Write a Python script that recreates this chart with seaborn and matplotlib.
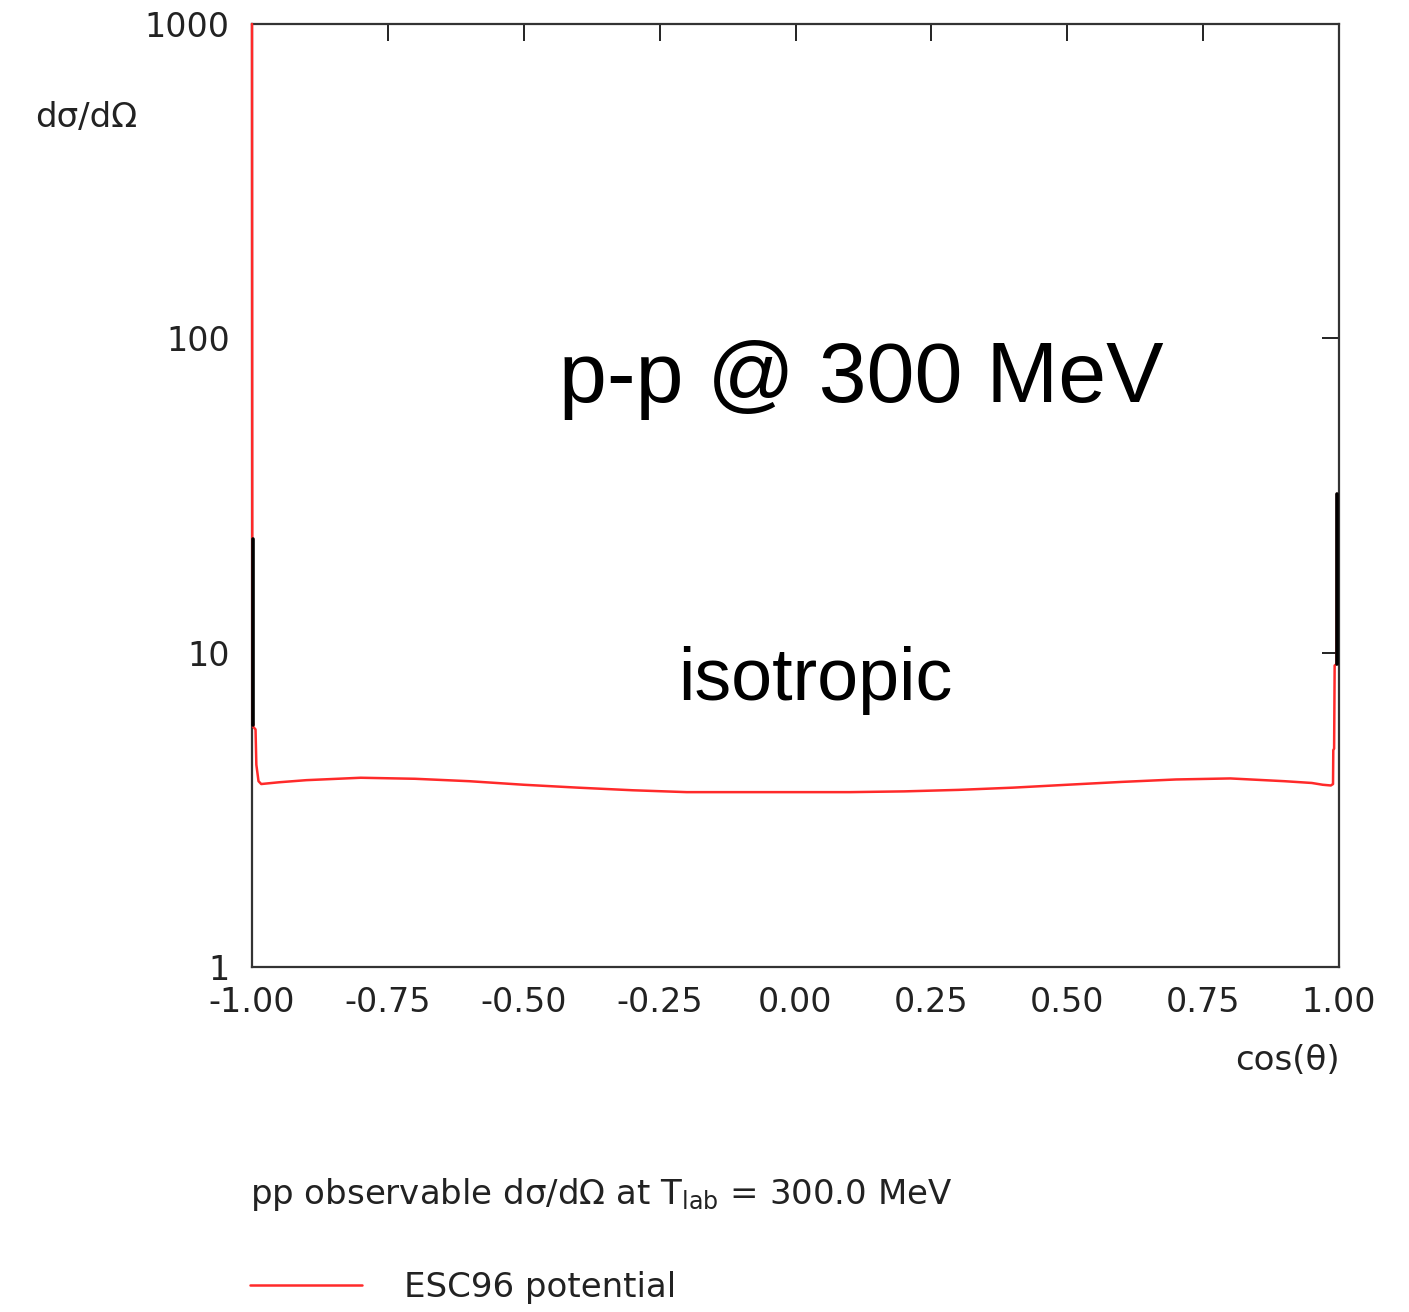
import numpy as np
import pandas as pd
import matplotlib
matplotlib.use("Agg")
import matplotlib.pyplot as plt
import seaborn as sns

# ---- data ----
cos_theta = [-1.000, -0.9995, -0.9985, -0.9975, -0.9935, -0.9920, -0.9880, -0.9830,
             -0.9700, -0.9500, -0.9000, -0.8000, -0.7000, -0.6000, -0.5000, -0.4000,
             -0.3000, -0.2000, -0.1000, 0.0000, 0.1000, 0.2000, 0.3000, 0.4000,
             0.5000, 0.6000, 0.7000, 0.8000, 0.9000, 0.9500, 0.9700, 0.9850,
             0.9890, 0.9895, 0.9910, 0.9920, 0.9955, 0.9962]
dsigma = [1000, 23.0, 6.0, 5.8, 5.7, 4.4, 3.9, 3.82,
          3.84, 3.87, 3.93, 4.0, 3.97, 3.9, 3.8, 3.72,
          3.65, 3.6, 3.6, 3.6, 3.6, 3.62, 3.66, 3.72,
          3.8, 3.88, 3.95, 3.98, 3.9, 3.85, 3.8, 3.78,
          3.82, 4.9, 4.95, 9.1, 9.2, 32.0]

edge_x = [-0.9985, -0.9985, 0.9965, 0.9965]
edge_y = [23.0, 5.9, 32.0, 9.2]
edge_id = ["left", "left", "right", "right"]

x_ticks = [-1.00, -0.75, -0.50, -0.25, 0.00, 0.25, 0.50, 0.75, 1.00]
y_ticks = [1, 10, 100, 1000]
y_ticklabels = ["1", "10", "100", "1000"]

series_label = "ESC96 potential"
title_text = "p-p @ 300 MeV"
note_text = "isotropic"
caption = "pp observable dσ/dΩ at T$_\\mathrm{lab}$ = 300.0 MeV"

# ---- styling ----
sns.set_style("white")
plt.rcParams["font.family"] = ["DejaVu Sans"]
plt.rcParams["mathtext.fontset"] = "dejavusans"

W, H = 1409, 1312
FS = 24
FS2 = 24.5
fig = plt.figure(figsize=(W / 100, H / 100), dpi=100)
ax = fig.add_axes([252 / W, 1 - 967 / H, (1339 - 252) / W, (967 - 24) / H])

df = pd.DataFrame({"cos": cos_theta, "ds": dsigma})
sns.lineplot(data=df, x="cos", y="ds", ax=ax, color="#ff2a2a", lw=1.8,
             estimator=None, sort=False, label=series_label, zorder=4, clip_on=False)

edges = pd.DataFrame({"x": edge_x, "y": edge_y, "id": edge_id})
sns.lineplot(data=edges, x="x", y="y", units="id", ax=ax, color="black", lw=2.6,
             estimator=None, sort=False, legend=False, zorder=5, clip_on=False)

ax.set_yscale("log")
ax.set_xlim(-1, 1)
ax.set_ylim(1, 1000)
ax.set_xticks(x_ticks)
ax.set_xticklabels([f"{v:.2f}" for v in x_ticks])
ax.set_yticks(y_ticks)
ax.set_yticklabels(y_ticklabels)
ax.yaxis.set_minor_locator(matplotlib.ticker.NullLocator())
ax.tick_params(axis="both", which="major", direction="in", length=12, width=1.4,
               top=True, right=True, labelsize=FS, color="#222222",
               labelcolor="#222222")
ax.tick_params(axis="x", pad=14)
ax.tick_params(axis="y", pad=16)
for sp in ax.spines.values():
    sp.set_color("#333333")
    sp.set_linewidth(1.6)
    sp.set_visible(True)

ax.set_xlabel("")
ax.set_ylabel("")
fig.text(35 / W, 1 - 118 / H, "dσ/dΩ", fontsize=FS2, ha="left", va="center", color="#222222")
fig.text(1340 / W, 1 - 1060 / H, "cos(θ)", fontsize=FS2, ha="right", va="center", color="#222222")

ax.text(0.561, 0.599, title_text, transform=ax.transAxes, fontsize=62,
        ha="center", va="baseline", color="black", family="Liberation Sans")
ax.text(0.518, 0.283, note_text, transform=ax.transAxes, fontsize=53,
        ha="center", va="baseline", color="black", family="Liberation Sans")

fig.text(250 / W, 1 - 1204 / H, caption, fontsize=FS2, ha="left", va="baseline", color="#222222")

leg = ax.legend(loc="center left", bbox_to_anchor=(219 / W, 1 - 1287 / H),
                bbox_transform=fig.transFigure, frameon=False, fontsize=FS2,
                handlelength=3.3, handletextpad=1.25)
for t in leg.get_texts():
    t.set_color("#222222")

fig.savefig("out.png", dpi=100)
